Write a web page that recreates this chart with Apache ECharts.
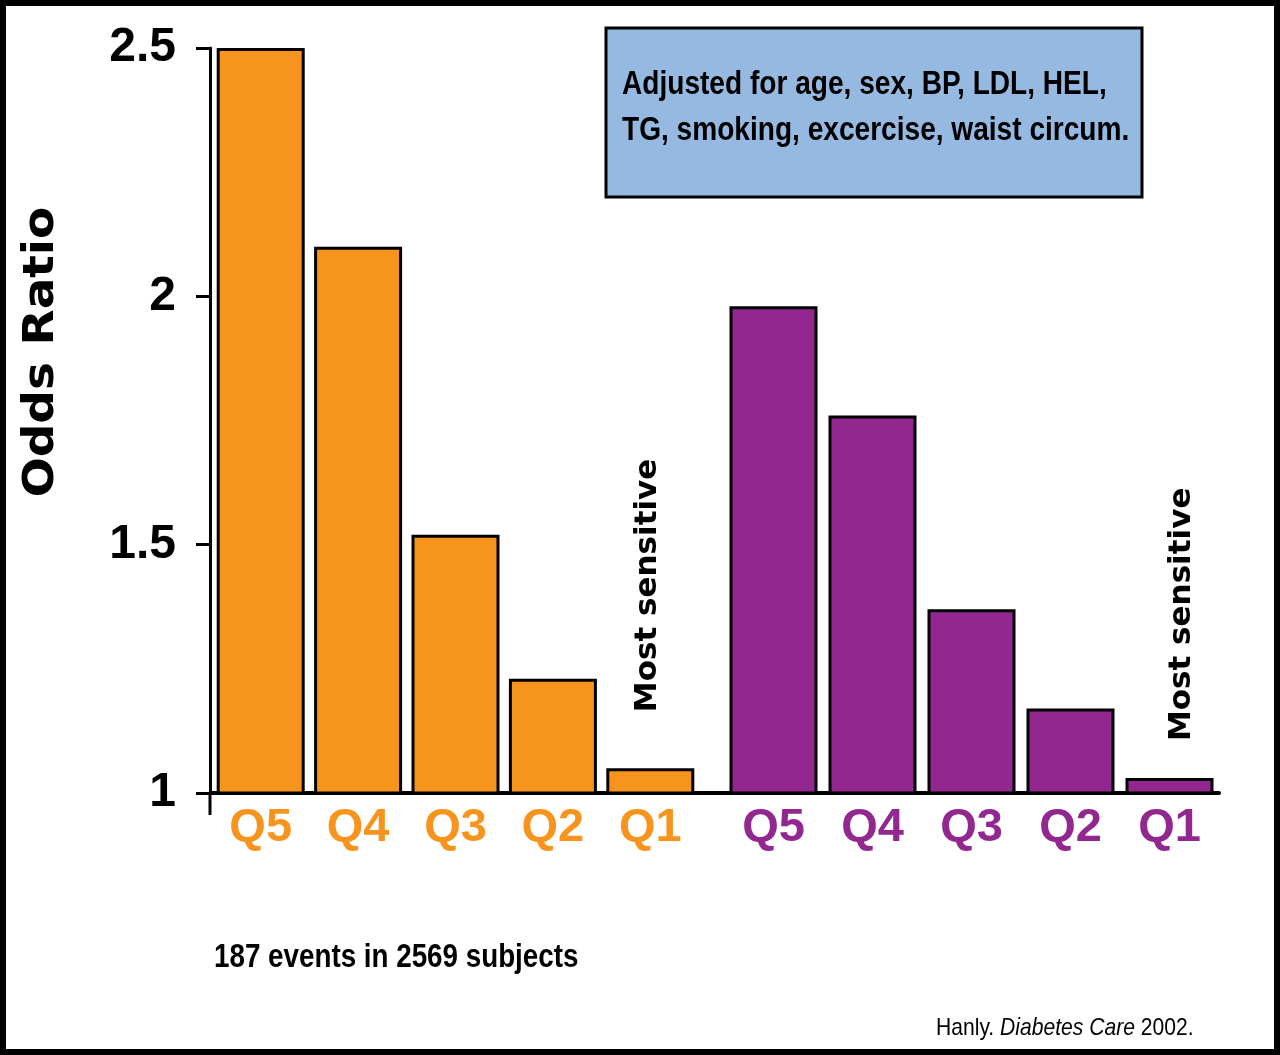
<!DOCTYPE html>
<html>
<head>
<meta charset="utf-8">
<script src="https://cdn.jsdelivr.net/npm/echarts@6/dist/echarts.min.js"></script>
<style>
  html, body { margin: 0; padding: 0; background: #fff; }
  #chart { width: 1280px; height: 1055px; }
</style>
</head>
<body>
<div id="chart"></div>
<script>
// data
var quintiles = ['Q5', 'Q4', 'Q3', 'Q2', 'Q1'];
var orangeOR = [2.5, 2.1, 1.52, 1.23, 1.05];
var purpleOR = [1.98, 1.76, 1.37, 1.17, 1.03];
var yMin = 1, yMax = 2.5, yStep = 0.5;
var noteLabel = 'Most sensitive';
var boxText = 'Adjusted for age, sex, BP, LDL, HEL,\nTG, smoking, excercise, waist circum.';

var ORANGE = '#F7941D';
var PURPLE = '#92278F';
var sans = "'Liberation Sans', Arial, sans-serif";
var wide = "'DejaVu Sans', Verdana, sans-serif";

function drawChart () {
  var chartDom = document.getElementById('chart');
  var myChart = echarts.init(chartDom);
  var option;

  function withNote (values, dist, off) {
    return values.map(function (v, i) {
      if (i !== values.length - 1) return v;
      return {
        value: v,
        label: {
          show: true,
          formatter: noteLabel,
          position: 'top',
          rotate: 90,
          align: 'left',
          verticalAlign: 'middle',
          distance: dist,
          offset: off,
          color: '#000',
          fontFamily: wide,
          fontWeight: 'bold',
          fontSize: 31
        }
      };
    });
  }

  var xAxisBase = {
    type: 'category',
    data: quintiles,
    axisLine: { show: true, lineStyle: { color: '#000', width: 4 } },
    axisTick: { show: false },
    splitLine: { show: false }
  };

  option = {
    backgroundColor: '#fff',
    animation: false,
    grid: [
      { left: 212, top: 48, width: 487, height: 745 },
      { left: 724, top: 48, width: 495, height: 745 }
    ],
    xAxis: [
      Object.assign({}, xAxisBase, {
        gridIndex: 0,
        axisLabel: { color: ORANGE, fontFamily: sans, fontWeight: 'bold', fontSize: 47, margin: 12 }
      }),
      Object.assign({}, xAxisBase, {
        gridIndex: 1,
        axisLabel: { color: PURPLE, fontFamily: sans, fontWeight: 'bold', fontSize: 47, margin: 12 }
      })
    ],
    yAxis: [
      {
        type: 'value',
        gridIndex: 0,
        min: yMin,
        max: yMax,
        interval: yStep,
        offset: 2,
        axisLine: { show: true, lineStyle: { color: '#000', width: 3 } },
        axisTick: { show: true, length: 14, lineStyle: { color: '#000', width: 3 } },
        axisLabel: { color: '#000', fontFamily: sans, fontWeight: 'bold', fontSize: 48, margin: 34 },
        splitLine: { show: false }
      },
      {
        type: 'value',
        gridIndex: 1,
        min: yMin,
        max: yMax,
        interval: yStep,
        show: false
      }
    ],
    series: [
      {
        name: 'orange',
        type: 'bar',
        xAxisIndex: 0,
        yAxisIndex: 0,
        barWidth: 88,
        itemStyle: { color: ORANGE, borderColor: '#000', borderWidth: 3 },
        data: withNote(orangeOR, 56, [0, -2])
      },
      {
        name: 'purple',
        type: 'bar',
        xAxisIndex: 1,
        yAxisIndex: 1,
        barWidth: 88,
        itemStyle: { color: PURPLE, borderColor: '#000', borderWidth: 3 },
        data: withNote(purpleOR, 37, [0, 12])
      }
    ],
    graphic: [
      // join the two baselines and extend the y axis below them
      { type: 'line', shape: { x1: 697, y1: 793, x2: 726, y2: 793 }, style: { stroke: '#000', lineWidth: 4 } },
      { type: 'line', shape: { x1: 210, y1: 793, x2: 210, y2: 815 }, style: { stroke: '#000', lineWidth: 3 } },
      {
        type: 'rect',
        shape: { x: 606, y: 28, width: 536, height: 169 },
        style: { fill: '#95B9E1', stroke: '#000', lineWidth: 3 }
      },
      {
        type: 'text',
        x: 622,
        y: 62,
        scaleX: 0.826,
        style: {
          text: boxText,
          fill: '#000',
          font: 'bold 34px ' + sans,
          lineHeight: 46
        }
      },
      {
        type: 'text',
        x: 42,
        y: 352,
        rotation: Math.PI / 2,
        scaleX: 1.12,
        style: {
          text: 'Odds Ratio',
          fill: '#000',
          font: 'bold 42px ' + wide,
          align: 'center',
          verticalAlign: 'middle'
        }
      },
      {
        type: 'text',
        x: 214,
        y: 941,
        scaleX: 0.817,
        style: { text: '187 events in 2569 subjects', fill: '#000', font: 'bold 34px ' + sans }
      },
      {
        type: 'text',
        x: 936,
        y: 1016,
        scaleX: 0.879,
        style: {
          text: '{a|Hanly. }{b|Diabetes Care}{a| 2002.}',
          rich: {
            a: { fill: '#000', fontFamily: sans, fontSize: 24 },
            b: { fill: '#000', fontFamily: sans, fontSize: 24, fontStyle: 'italic' }
          }
        }
      },
      {
        type: 'rect',
        z: 100,
        shape: { x: 3, y: 3, width: 1274, height: 1049 },
        style: { fill: 'none', stroke: '#000', lineWidth: 6 }
      }
    ]
  };

  option && myChart.setOption(option);
}

drawChart();
</script>
</body>
</html>
